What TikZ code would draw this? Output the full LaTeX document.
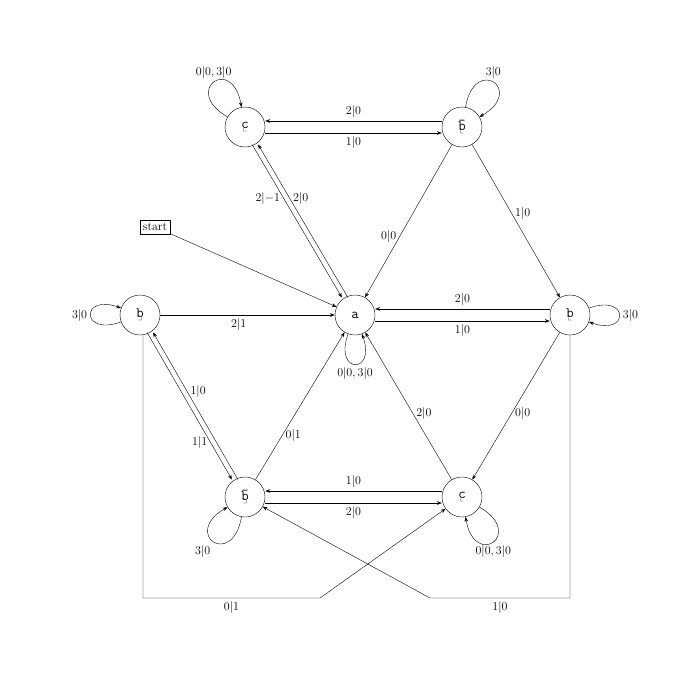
\documentclass[tikz,border=0pt]{standalone}
\usepackage{amsmath,amssymb}
\usetikzlibrary{arrows.meta}
\newcommand{\stname}[2]{{\Large$\mathtt{#1}$}\\[-9pt]{\footnotesize$#2$}}
\begin{document}
\begin{tikzpicture}[x=1pt,y=-1pt,>=Stealth,
  state/.style={draw,circle,minimum size=40pt,inner sep=0pt,align=center},
  lbl/.style={font=\large},
  every loop/.style={looseness=8,min distance=22pt}]
  \useasboundingbox (0,0) rectangle (700,677);
  % states
  \node[state] (a) at (355,315) {{\Large$\mathtt{a}$}};
  \node[state] (ctl) at (245,127) {\stname{c}{\llcorner}};
  \node[state] (btr) at (462,127) {\stname{\bar{b}}{\llcorner}};
  \node[state] (br) at (570,315) {\stname{b}{\llcorner}};
  \node[state] (bl) at (140,315) {\stname{b}{\lrcorner}};
  \node[state] (bbl) at (245,497) {\stname{\bar{b}}{\lrcorner}};
  \node[state] (cbr) at (462,497) {\stname{c}{\llcorner}};
  \node[draw,inner sep=3pt,font=\large] (start) at (155,227) {start};
  \coordinate (l1) at (143,598);
  \coordinate (l2) at (320,598);
  \coordinate (r1) at (570,598);
  \coordinate (r2) at (430,598);
  % transitions
  \draw[->] (start) -- (a);
  \draw[->] (bl) -- node[lbl,below,pos=0.45] {$2|1$} (a);
  \draw[->] ([yshift=6pt]br.west) -- node[lbl,above] {$2|0$} ([yshift=6pt]a.east);
  \draw[->] ([yshift=-6pt]a.east) -- node[lbl,below] {$1|0$} ([yshift=-6pt]br.west);
  \draw[->] ([yshift=6pt]btr.west) -- node[lbl,above] {$2|0$} ([yshift=6pt]ctl.east);
  \draw[->] ([yshift=-6pt]ctl.east) -- node[lbl,below] {$1|0$} ([yshift=-6pt]btr.west);
  \draw[->] ([xshift=-3pt]ctl.-60) -- node[lbl,left,pos=0.35] {$2|{-1}$} ([xshift=-3pt]a.120);
  \draw[->] ([xshift=3pt]a.120) -- node[lbl,right,pos=0.65] {$2|0$} ([xshift=3pt]ctl.-60);
  \draw[->] (btr) -- node[lbl,left,pos=0.6] {$0|0$} (a);
  \draw[->] (btr) -- node[lbl,right,pos=0.45] {$1|0$} (br);
  \draw[->] (br) -- node[lbl,right,pos=0.55] {$0|0$} (cbr);
  \draw[->] ([xshift=-3pt]bl.-60) -- node[lbl,left,pos=0.75] {$1|1$} ([xshift=-3pt]bbl.120);
  \draw[->] ([xshift=3pt]bbl.120) -- node[lbl,right,pos=0.6] {$1|0$} ([xshift=3pt]bl.-60);
  \draw[->] (bbl) -- node[lbl,right,pos=0.3] {$0|1$} (a);
  \draw[->] (cbr) -- node[lbl,right,pos=0.45] {$2|0$} (a);
  \draw[->] ([yshift=6pt]cbr.west) -- node[lbl,above] {$1|0$} ([yshift=6pt]bbl.east);
  \draw[->] ([yshift=-6pt]bbl.east) -- node[lbl,below] {$2|0$} ([yshift=-6pt]cbr.west);
  \draw[->] (bl.south -| l1) -- (l1) -- node[lbl,below,pos=0.5] {$0|1$} (l2) -- (cbr);
  \draw[->] (br.south) -- (r1) -- node[lbl,below,pos=0.5] {$1|0$} (r2) -- (bbl);
  % loops
  \draw[->] (a) to[out=-110,in=-70,loop] node[lbl,below] {$0|0,3|0$} ();
  \draw[->] (ctl) to[out=150,in=100,loop] node[lbl,above] {$0|0,3|0$} ();
  \draw[->] (btr) to[out=80,in=30,loop] node[lbl,above] {$3|0$} ();
  \draw[->] (br) to[out=20,in=-20,loop] node[lbl,right] {$3|0$} ();
  \draw[->] (bl) to[out=200,in=160,loop] node[lbl,left] {$3|0$} ();
  \draw[->] (bbl) to[out=-100,in=-150,loop] node[lbl,below left] {$3|0$} ();
  \draw[->] (cbr) to[out=-30,in=-80,loop] node[lbl,below] {$0|0,3|0$} ();
\end{tikzpicture}
\end{document}
